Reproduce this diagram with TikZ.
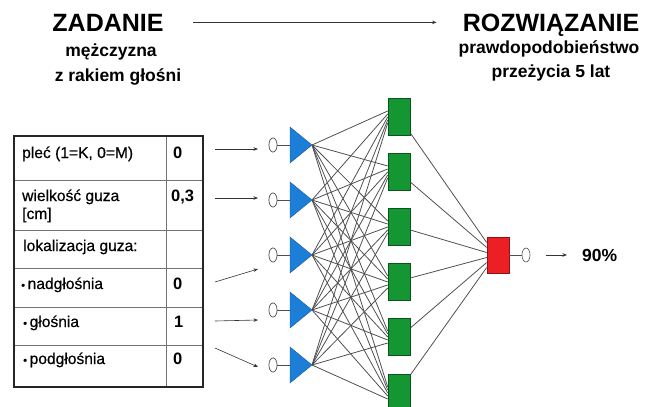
\documentclass[tikz,border=0pt]{standalone}
\usepackage{fontspec}
\setmainfont{Liberation Sans}
\newfontfamily\cellfont[FakeBold=0.5]{Liberation Sans}
\usetikzlibrary{arrows.meta,shapes.geometric,calc}
\definecolor{triblue}{RGB}{28,126,214}
\definecolor{triedge}{RGB}{20,90,170}
\definecolor{gfill}{RGB}{20,150,50}
\definecolor{gedge}{RGB}{10,85,30}
\definecolor{rfill}{RGB}{236,32,36}
\definecolor{redge}{RGB}{140,20,20}
\definecolor{lgray}{RGB}{80,80,80}
\begin{document}
\begin{tikzpicture}[x=1pt,y=-1pt,
  title/.style={font=\fontsize{25}{25}\selectfont\bfseries, inner sep=0pt, anchor=base},
  sub/.style={font=\fontsize{17.5}{18}\selectfont\bfseries, inner sep=0pt, anchor=base},
  cell/.style={font=\fontsize{15.6}{16}\selectfont\cellfont, inner sep=0pt, anchor=base west},
  num/.style={font=\fontsize{16.5}{17}\selectfont\bfseries, inner sep=0pt, anchor=base west},
  conn/.style={draw=lgray, line width=0.8pt},
  arr/.style={draw=black!80, line width=0.6pt, -{Stealth[length=4.5pt,width=3.5pt]}},
  inc/.style={ellipse, draw=lgray, fill=white, line width=0.6pt, minimum width=8pt, minimum height=14pt, inner sep=0pt},
  tri/.style={fill=triblue, draw=triedge, line width=0.4pt},
  hid/.style={rectangle, fill=gfill, draw=gedge, line width=0.6pt, minimum width=22pt, minimum height=37pt, inner sep=0pt},
  outn/.style={rectangle, fill=rfill, draw=redge, line width=0.6pt, minimum width=22pt, minimum height=36pt, inner sep=0pt},
  tabout/.style={draw=black!85, line width=1.4pt},
  tabin/.style={draw=black!55, line width=0.6pt}]
\useasboundingbox (0,0) rectangle (648,407);

% titles
\node[title] (zad) at (108,31) {ZADANIE};
\node[sub] (s1) at (111,56) {mężczyzna};
\node[sub] (s2) at (118,81) {z rakiem głośni};
\node[title] (roz) at (551,31) {ROZWIĄZANIE};
\node[sub] (s3) at (549,53) {prawdopodobieństwo};
\node[sub] (s4) at (551,77) {przeżycia 5 lat};
\draw[arr] ([xshift=29pt]zad.east) -- ([xshift=-26pt]zad.east -| roz.west);

% table
\draw[tabin] (166,136) -- (166,387);
\foreach \yy in {180,230,268,307,345} \draw[tabin] (14,\yy) -- (203,\yy);
\draw[tabout] (14,136) rectangle (203,387);
\node[cell] (t1) at (22,158) {pleć (1=K, 0=M)};
\node[cell] (t2) at (22,201) {wielkość guza};
\node[cell] (t2b) at (22,219) {[cm]};
\node[cell] (t3) at (23,251) {lokalizacja guza:};
\node[cell] (t4) at (21,289) {{\fontsize{11}{11}\selectfont •}\,nadgłośnia};
\node[cell] (t5) at (23,327) {{\fontsize{11}{11}\selectfont •}\,głośnia};
\node[cell] (t6) at (23,364) {{\fontsize{11}{11}\selectfont •}\,podgłośnia};
\node[num] (v1) at (173,158) {0};
\node[num] (v2) at (171,201) {0,3};
\node[num] (v4) at (173,289) {0};
\node[num] (v5) at (174,327) {1};
\node[num] (v6) at (173,364) {0};

% input arrows
\foreach \k/\ya/\yb in {1/149/149, 2/198/198, 3/282/269, 4/321/320, 5/348/367} {
  \coordinate (s\k) at (215,\ya);
  \coordinate (e\k) at (258,\yb);
  \draw[arr] (s\k) -- (e\k);
}

% input neurons
\foreach \i/\yy in {1/145,2/200,3/255,4/310,5/365} {
  \coordinate (a\i) at (312,\yy);
  \node[inc] (c\i) at (273,\yy) {};
}

% hidden neurons
\foreach \j/\yy in {1/117,2/172,3/227,4/282,5/337,6/393} {
  \node[hid] (g\j) at (399,\yy) {};
}
% output neuron
\node[outn] (r) at (498,255) {};

% connections
\foreach \i in {1,...,5} {
  \foreach \j in {1,...,6} {
    \draw[conn] (a\i) -- ($(g\j.west)+(0,{(\i-3)*3})$);
  }
}
\foreach \j/\s in {1/16,2/10,3/3,4/-4,5/-9,6/-18} {
  \draw[conn] ($(g\j.east)+(0,\s)$) -- ($(r.west)+(0,{(\j-3.5)*5})$);
}

% redraw nodes on top
\foreach \j in {1,...,6} {
  \node[hid] at (g\j) {};
}
\node[outn] at (r) {};

\foreach \i in {1,...,5} {
  \draw[conn] (c\i.east) -- ($(a\i)+(-22,0)$);
  \filldraw[tri] (a\i) -- ++(-22,-18) -- ++(0,36) -- cycle;
  \node[inc] at (c\i) {};
}

% output
\node[inc] (co) at (526,255) {};
\draw[conn] (r.east) -- (co.west);
\node[font=\fontsize{17.5}{18}\selectfont\bfseries, inner sep=0pt, anchor=west] (pct) at (582,255) {90\%};
\draw[arr] ([xshift=16pt]co.east) -- ([xshift=-15pt]pct.west);
\end{tikzpicture}
\end{document}
